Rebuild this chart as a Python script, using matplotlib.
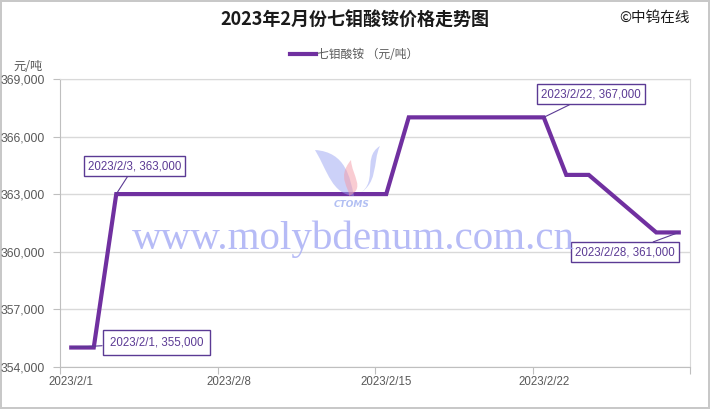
import matplotlib
matplotlib.use('Agg')
import matplotlib.pyplot as plt
from matplotlib.patches import PathPatch
from matplotlib.path import Path

plt.rcParams['font.family'] = ['Noto Sans CJK SC', 'DejaVu Sans']

# daily prices, 2023/2/1 .. 2023/2/28
dates = ['2023/2/{}'.format(d) for d in range(1, 29)]
prices = [355000, 355000] + [363000] * 13 + [367000] * 7 + [364000, 364000, 363000, 362000, 361000, 361000]
tick_labels = ['2023/2/1', '2023/2/8', '2023/2/15', '2023/2/22']
y_ticks = [354000, 357000, 360000, 363000, 366000, 369000]
# labelled points: index, label, offset of the box in pixels, box padding
callouts = [(0, '2023/2/1, 355,000', (85, 5), 0.6),
            (2, '2023/2/3, 363,000', (18, 28), 0.35),
            (21, '2023/2/22, 367,000', (47, 23), 0.35),
            (27, '2023/2/28, 361,000', (-54, -20), 0.35)]

purple = '#7030A0'
label_col = '#5b3a94'
grid_col = '#d9d9d9'
tick_col = '#595959'

fig = plt.figure(figsize=(7.1, 4.09), dpi=100)
fig.patch.set_edgecolor('#c8c8c8')
fig.patch.set_linewidth(1.5)
ax = fig.add_axes([60 / 710, 42.3 / 409, 630 / 710, 287.7 / 409])

x = list(range(len(prices)))
line, = ax.plot(x, prices, color=purple, lw=3, solid_joinstyle='miter', zorder=3)

ax.set_xlim(-0.5, len(prices) - 0.5)
ax.set_ylim(354000, 369000)
ax.set_yticks(y_ticks)
ax.set_yticklabels(['{:,}'.format(v) for v in y_ticks], fontsize=8.8, color=tick_col,
                   family='Liberation Sans')
ax.set_xticks([-0.5 + 7 * i for i in range(5)])
ax.set_xticklabels([])
ax.set_xticks([7 * i for i in range(4)], minor=True)
ax.set_xticklabels(tick_labels, minor=True, fontsize=8.3, color=tick_col, family='Liberation Sans')
ax.tick_params(axis='x', which='minor', length=0, pad=7)
ax.tick_params(axis='x', which='major', length=5, color='#bfbfbf', direction='out')
ax.tick_params(axis='y', length=5, color='#bfbfbf', pad=6)
ax.grid(axis='y', color=grid_col, lw=1)
for s in ['left', 'bottom']:
    ax.spines[s].set_color('#bfbfbf')
for s in ['top', 'right']:
    ax.spines[s].set_color(grid_col)

for i, txt, off, pad in callouts:
    ax.annotate(txt, (x[i], prices[i]), xytext=off, textcoords='offset pixels',
                ha='center', va='center', fontsize=8.3, color=label_col, family='Liberation Sans',
                bbox=dict(boxstyle='square,pad={}'.format(pad), fc='white', ec=label_col, lw=1),
                arrowprops=dict(arrowstyle='-', color=label_col, lw=0.8, shrinkA=0, shrinkB=0),
                zorder=5)

# watermark
fig.text(353 / 710, 1 - 239 / 409, 'www.molybdenum.com.cn', ha='center', va='center',
         fontsize=29.5, color='#aab0f5', family='Liberation Serif', alpha=0.85, zorder=0)
fig.text(352 / 710, 1 - 204 / 409, 'CTOMS', ha='center', va='center', fontsize=6.5,
         color='#9fb0f0', style='italic', weight='bold', family='DejaVu Sans', alpha=0.8)


def blob(pts, color):
    verts = [(px / 710, 1 - py / 409) for px, py in pts]
    codes = [Path.MOVETO] + [Path.CURVE4] * 6
    fig.patches.append(PathPatch(Path(verts, codes), fc=color, ec='none', alpha=0.5,
                                 transform=fig.transFigure))


blob([(315, 150), (328, 172), (332, 194), (354, 196),
      (350, 178), (346, 152), (315, 150)], '#9aa4f2')
blob([(380, 146), (360, 158), (382, 186), (354, 196),
      (380, 186), (372, 162), (380, 146)], '#9aa4f2')
blob([(351, 160), (336, 178), (350, 188), (349, 196),
      (366, 188), (352, 176), (351, 160)], '#f59aa6')

fig.text(0.5, 1 - 20 / 409, '2023年2月份七钼酸铵价格走势图', ha='center', va='center',
         fontsize=13, weight='bold', color='#1a1a1a')
fig.text(655 / 710, 1 - 18 / 409, '©中钨在线', ha='center', va='center', fontsize=10.5,
         color='#1a1a1a')
fig.text(28 / 710, 1 - 67 / 409, '元/吨', ha='center', va='center', fontsize=8.8, color=tick_col)

fig.legend([line], ['七钼酸铵 （元/吨）'], loc='center', bbox_to_anchor=(354 / 710, 1 - 55 / 409),
           frameon=False, fontsize=8.5, labelcolor=tick_col, handlelength=2.2, handletextpad=0.1)

fig.savefig('out.png', dpi=100)
